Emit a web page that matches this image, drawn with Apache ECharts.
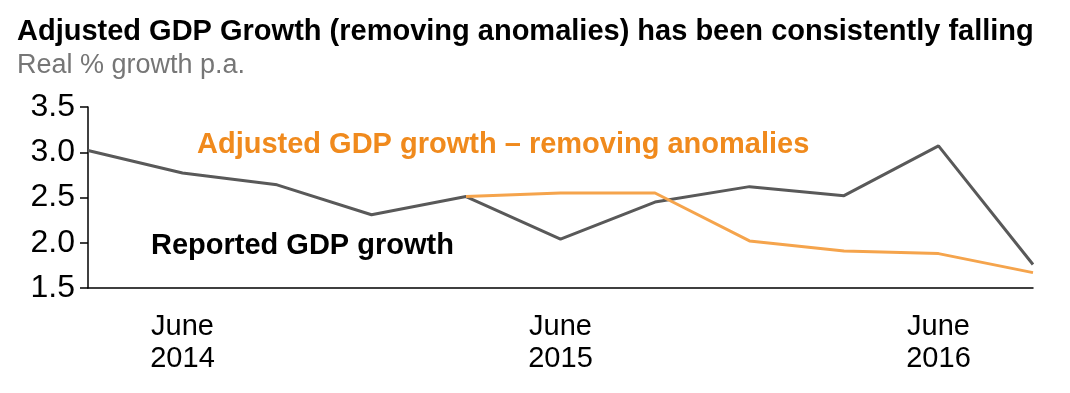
<!DOCTYPE html>
<html>
<head>
<meta charset="utf-8">
<script src="https://cdn.jsdelivr.net/npm/echarts@6/dist/echarts.min.js"></script>
<style>
html,body{margin:0;padding:0;background:#fff;}
#chart{width:1070px;height:393px;}
</style>
</head>
<body>
<div id="chart"></div>
<script>
const categories = ["Mar 2014","Jun 2014","Sep 2014","Dec 2014","Mar 2015","Jun 2015","Sep 2015","Dec 2015","Mar 2016","Jun 2016","Sep 2016"];
const tickLabels = {"Jun 2014":"June\n2014","Jun 2015":"June\n2015","Jun 2016":"June\n2016"};
const reported = [3.02, 2.77, 2.64, 2.31, 2.51, 2.04, 2.45, 2.62, 2.52, 3.07, 1.76];
const adjusted = [null, null, null, null, 2.51, 2.55, 2.55, 2.02, 1.91, 1.88, 1.67];
const yTicks = [1.5, 2.0, 2.5, 3.0, 3.5];

const FONT = "Liberation Sans, Arial, sans-serif";
const chart = echarts.init(document.getElementById('chart'), null, {renderer:'canvas'});
chart.setOption({
  animation:false,
  backgroundColor:'#fff',
  title:[
    {text:'Adjusted GDP Growth (removing anomalies) has been consistently falling', left:12, top:12,
     textStyle:{fontFamily:FONT, fontSize:29, fontWeight:'bold', color:'#000'}},
    {text:'Real % growth p.a.', left:12, top:47,
     textStyle:{fontFamily:FONT, fontSize:27, fontWeight:'normal', color:'#767676'}}
  ],
  grid:{left:88, right:37, top:107, bottom:105, containLabel:false},
  xAxis:{
    type:'category', data:categories, boundaryGap:false,
    axisLine:{show:true, lineStyle:{color:'#000', width:1.5}},
    axisTick:{show:false},
    axisLabel:{interval:0, margin:23, fontFamily:FONT, fontSize:29, color:'#000', lineHeight:32,
      formatter:(v)=>tickLabels[v] || ''},
    splitLine:{show:false}
  },
  yAxis:{
    type:'value', min:yTicks[0], max:yTicks[yTicks.length-1], interval:0.5,
    axisLine:{show:true, lineStyle:{color:'#000', width:1.5}},
    axisTick:{show:true, inside:false, length:8, lineStyle:{color:'#000', width:1.5}},
    axisLabel:{margin:13, fontFamily:FONT, fontSize:32, color:'#000', formatter:(v)=>v.toFixed(1)},
    splitLine:{show:false}
  },
  series:[
    {name:'Reported GDP growth', type:'line', data:reported, symbol:'none',
     lineStyle:{color:'#595959', width:3}, z:2},
    {name:'Adjusted GDP growth – removing anomalies', type:'line', data:adjusted, symbol:'none', connectNulls:false,
     lineStyle:{color:'#F5A44C', width:3}, z:3}
  ],
  graphic:[
    {type:'text', left:197, top:130, style:{text:'Adjusted GDP growth – removing anomalies', fill:'#F08A1D',
      font:'bold 29px "Liberation Sans", Arial, sans-serif'}},
    {type:'text', left:151, top:231, style:{text:'Reported GDP growth', fill:'#000',
      font:'bold 29px "Liberation Sans", Arial, sans-serif'}}
  ]
});
</script>
</body>
</html>
